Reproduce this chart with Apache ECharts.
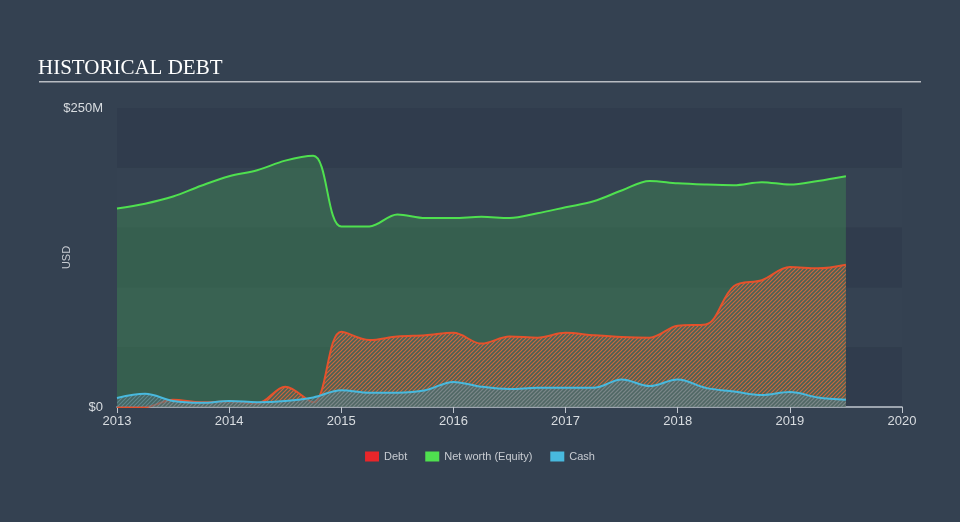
<!DOCTYPE html>
<html><head><meta charset="utf-8">
<script src="https://cdn.jsdelivr.net/npm/echarts@6/dist/echarts.min.js"></script>
<style>html,body{margin:0;padding:0;background:#344151;}#c{width:960px;height:522px;}</style>
</head><body><div id="c"></div>
<script>
const years = [2013,2013.25,2013.5,2013.75,2014,2014.25,2014.5,2014.75,2015,2015.25,2015.5,2015.75,2016,2016.25,2016.5,2016.75,2017,2017.25,2017.5,2017.75,2018,2018.25,2018.5,2018.75,2019,2019.25,2019.5];
const debt = [0,0,6,4,4.5,3,17,4,63,56,59,60,62,53,59,58,62,60,58.5,58,68,69,101,106,117,116,119];
const netWorth = [166,170,176,185,193,198,206,210,151,151,161,158,158,159,158,162,167,172,181,189,187,186,185.5,188,186,189,193];
const cash = [7.5,11,5,3.5,5,4,5,8,14,12,12,14,21,17,15,16,16,16,23,17.5,23,16,13,10,12.5,8,6];
const xTicks = [2013,2014,2015,2016,2017,2018,2019,2020];
const yLabels = {0:'$0',250:'$250M'};

function hatch(line, bg){
  const c = document.createElement('canvas'); c.width = 4; c.height = 4;
  const g = c.getContext('2d');
  g.fillStyle = bg; g.fillRect(0,0,4,4);
  g.strokeStyle = line; g.lineWidth = 1.2;
  g.beginPath(); g.moveTo(0,4); g.lineTo(4,0); g.moveTo(-1,1); g.lineTo(1,-1); g.moveTo(3,5); g.lineTo(5,3); g.stroke();
  return c;
}
const pair = arr => years.map((y,i)=>[y,arr[i]]);
const chart = echarts.init(document.getElementById('c'));
chart.setOption({
  backgroundColor:'#344151',
  animation:false,
  title:{text:'HISTORICAL DEBT',left:38,top:58,padding:0,textStyle:{fontFamily:'Liberation Serif',fontWeight:'normal',fontSize:21,color:'#ffffff'}},
  graphic:[{type:'rect',shape:{x:39,y:81,width:882,height:1.5},style:{fill:'#b8bcc2'}}],
  legend:{bottom:55,left:'center',itemWidth:14,itemHeight:10,itemGap:18,icon:'rect',
    textStyle:{color:'#c8ccd2',fontSize:11,fontFamily:'Liberation Sans'},
    data:[{name:'Debt',itemStyle:{color:'#e8262a'}},{name:'Net worth (Equity)',itemStyle:{color:'#4fe04f'}},{name:'Cash',itemStyle:{color:'#48b9de'}}]},
  grid:{left:117,right:58,top:108,bottom:115},
  xAxis:{type:'value',min:2013,max:2020,interval:1,
    axisLine:{lineStyle:{color:'#c0c6ce',width:1.5}},
    axisTick:{show:true,length:6,lineStyle:{color:'#c0c6ce'}},
    axisLabel:{color:'#d8dce0',fontSize:13,margin:8,fontFamily:'Liberation Sans',formatter:v=>String(v)},
    splitLine:{show:false}},
  yAxis:{type:'value',min:0,max:250,interval:50,name:'USD',nameLocation:'middle',nameGap:45,nameRotate:90,nameMoveOverlap:false,
    nameTextStyle:{color:'#c8ccd2',fontSize:11,fontFamily:'Liberation Sans'},
    axisLine:{show:false},axisTick:{show:false},
    axisLabel:{color:'#d8dce0',fontSize:13,margin:14,fontFamily:'Liberation Sans',formatter:v=>yLabels[v]||'',verticalAlign:'middle'},
    splitLine:{show:false},
    splitArea:{show:true,areaStyle:{color:['rgba(30,40,55,0.16)','rgba(62,76,92,0.12)']}}},
  series:[
    {name:'Net worth (Equity)',type:'line',data:pair(netWorth),smooth:0.35,symbol:'none',z:2,
      lineStyle:{color:'#4fe04f',width:2},itemStyle:{color:'#4fe04f'},
      areaStyle:{color:'rgba(66,150,82,0.55)',origin:'start'}},
    {name:'Debt',type:'line',data:pair(debt),smooth:0.35,symbol:'none',z:3,
      lineStyle:{color:'#e5522c',width:2},itemStyle:{color:'#e8262a'},
      areaStyle:{color:{image:hatch('rgba(226,104,60,0.85)','rgba(90,100,90,0.55)'),repeat:'repeat'},origin:'start',opacity:1}},
    {name:'Cash',type:'line',data:pair(cash),smooth:0.35,symbol:'none',z:4,
      lineStyle:{color:'#48b9de',width:2},itemStyle:{color:'#48b9de'},
      areaStyle:{color:{image:hatch('rgba(110,150,160,0.7)','rgba(80,110,120,0.5)'),repeat:'repeat'},origin:'start',opacity:1}}
  ]
});
</script></body></html>
